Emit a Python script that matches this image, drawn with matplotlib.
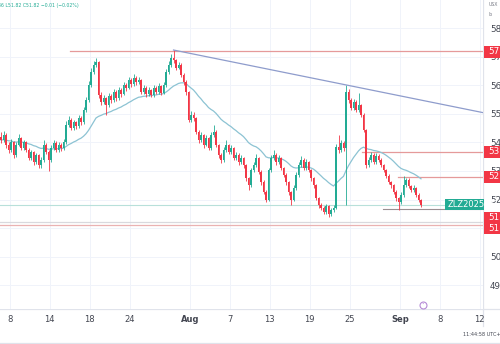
import matplotlib
matplotlib.use("Agg")
import matplotlib.pyplot as plt
import numpy as np
import pandas as pd
from matplotlib.patches import Rectangle

# ---------------- data ----------------
closes = [54.08, 54.26, 53.91, 53.73, 54.01, 53.56, 53.91, 54.15, 53.80, 54.01,
          53.73, 53.45, 53.66, 53.31, 53.56, 53.21, 53.38, 53.91, 53.66, 53.38,
          53.80, 53.98, 53.73, 53.91, 53.80, 54.01, 54.61, 54.78, 54.50, 54.71,
          54.57, 54.85, 54.71, 55.13, 55.48, 56.01, 56.46, 56.71, 56.81, 55.66,
          55.41, 55.55, 55.31, 55.62, 55.48, 55.76, 55.55, 55.83, 55.69, 56.01,
          55.90, 56.18, 56.04, 56.25, 56.11, 56.18, 55.76, 55.90, 55.69, 55.83,
          55.66, 55.90, 55.76, 55.97, 55.73, 56.01, 56.46, 56.71, 56.95, 56.88,
          56.60, 56.71, 56.36, 56.11, 55.76, 54.78, 54.96, 54.85, 54.36, 54.08,
          54.26, 53.91, 54.15, 53.80, 54.26, 54.36, 53.91, 53.56, 53.38, 53.73,
          53.91, 53.66, 53.80, 53.45, 53.56, 53.31, 53.45, 53.21, 52.75, 52.51,
          53.03, 53.21, 53.45, 52.96, 52.61, 52.26, 51.99, 53.03, 53.45, 53.56,
          53.31, 53.45, 53.10, 52.86, 52.61, 52.26, 51.99, 52.40, 52.86, 53.21,
          53.38, 53.10, 53.31, 53.03, 52.75, 52.51, 52.06, 51.81, 51.71, 51.57,
          51.78, 51.50, 51.64, 51.71, 53.84, 53.73, 53.98, 53.80, 55.76, 55.48,
          55.20, 55.41, 55.13, 55.31, 54.96, 54.43, 53.21, 53.38, 53.56, 53.31,
          53.52, 53.38, 53.21, 53.03, 52.82, 52.61, 52.51, 52.26, 52.06, 51.92,
          52.16, 52.51, 52.68, 52.47, 52.34, 52.40, 52.16, 51.99, 51.82]

highs = [54.35, 54.40, 54.32, 54.00, 54.12, 54.05, 54.02, 54.30, 54.20, 54.10,
         54.06, 53.80, 53.75, 53.70, 53.64, 53.60, 53.48, 54.08, 53.98, 53.72,
         53.90, 54.10, 54.05, 54.00, 53.98, 54.12, 54.75, 54.92, 54.85, 54.80,
         54.76, 54.96, 54.92, 55.25, 55.60, 56.15, 56.60, 56.85, 56.95, 56.86,
         55.75, 55.66, 55.60, 55.72, 55.70, 55.88, 55.82, 55.95, 55.90, 56.12,
         56.08, 56.30, 56.25, 56.38, 56.32, 56.28, 56.22, 56.00, 55.96, 55.92,
         55.88, 56.00, 55.96, 56.08, 56.02, 56.12, 56.58, 56.85, 57.10, 57.23,
         56.92, 56.82, 56.76, 56.42, 56.18, 55.80, 55.10, 55.05, 54.90, 54.42,
         54.38, 54.30, 54.26, 54.20, 54.38, 54.61, 54.42, 53.96, 53.62, 53.85,
         54.08, 53.96, 53.90, 53.85, 53.66, 53.62, 53.55, 53.50, 53.26, 52.80,
         53.12, 53.32, 53.58, 53.50, 53.02, 52.68, 52.32, 53.12, 53.56, 53.73,
         53.62, 53.55, 53.50, 53.15, 52.92, 52.66, 52.30, 52.50, 52.96, 53.32,
         53.52, 53.45, 53.42, 53.36, 53.08, 52.80, 52.56, 52.10, 51.88, 51.76,
         51.86, 51.82, 51.72, 51.80, 53.95, 54.26, 54.08, 54.05, 56.01, 55.85,
         55.55, 55.52, 55.48, 55.73, 55.36, 55.02, 54.48, 53.50, 53.68, 53.62,
         53.64, 53.58, 53.44, 53.26, 53.08, 52.88, 52.66, 52.56, 52.32, 52.10,
         52.26, 52.82, 52.76, 52.74, 52.52, 52.50, 52.45, 52.22, 52.02]

lows = [53.98, 54.00, 53.80, 53.62, 53.68, 53.45, 53.50, 53.86, 53.72, 53.75,
        53.65, 53.38, 53.40, 53.20, 53.25, 53.12, 53.10, 53.32, 53.58, 53.00,
        53.30, 53.72, 53.65, 53.66, 53.70, 53.74, 53.95, 54.55, 54.42, 54.45,
        54.48, 54.52, 54.62, 54.66, 55.05, 55.40, 55.95, 56.38, 56.62, 55.55,
        55.32, 55.35, 54.96, 55.25, 55.38, 55.42, 55.46, 55.50, 55.60, 55.64,
        55.80, 55.85, 55.95, 55.98, 56.02, 56.04, 55.68, 55.70, 55.60, 55.62,
        55.58, 55.60, 55.68, 55.70, 55.65, 55.68, 55.95, 56.40, 56.65, 56.78,
        56.52, 56.55, 56.28, 56.02, 55.66, 54.70, 54.72, 54.76, 54.28, 53.98,
        54.02, 53.82, 53.86, 53.72, 53.75, 54.20, 53.84, 53.46, 53.28, 53.32,
        53.68, 53.58, 53.60, 53.38, 53.38, 53.22, 53.25, 53.12, 52.66, 52.34,
        52.45, 52.96, 53.15, 52.88, 52.52, 52.18, 51.90, 51.95, 52.98, 53.40,
        53.22, 53.25, 53.02, 52.78, 52.52, 52.16, 51.81, 51.95, 52.35, 52.80,
        53.15, 53.02, 53.05, 52.95, 52.66, 52.42, 51.98, 51.72, 51.62, 51.48,
        51.50, 51.40, 51.44, 51.58, 51.66, 53.62, 53.66, 53.70, 51.81, 55.38,
        55.12, 55.15, 55.05, 55.08, 54.88, 54.35, 53.12, 53.15, 53.32, 53.24,
        53.26, 53.30, 53.14, 52.95, 52.74, 52.54, 52.42, 52.18, 51.96, 51.64,
        51.86, 52.10, 52.45, 52.40, 52.26, 52.28, 52.08, 51.90, 51.75]

first_open = 54.20
opens = [first_open] + closes[:-1]

tick_dates = ["2025-07-08", "2025-07-14", "2025-07-18", "2025-07-24", "2025-08-01",
              "2025-08-07", "2025-08-13", "2025-08-19", "2025-08-25", "2025-09-02",
              "2025-09-08", "2025-09-12"]
tick_labels = ["8", "14", "18", "24", "Aug", "7", "13", "19", "25", "Sep", "8", "12"]

price_ticks = [49, 50, 51, 52, 53, 54, 55, 56, 57, 58]

level_top = 57.20
level_mid = 53.68
level_52 = 52.80
level_low_recent = 51.67
level_bottom_a = 51.22
level_bottom_b = 51.10
symbol = "ZLZ2025"
header = "H51.86 L51.82 C51.82 \u22120.01 (\u22120.02%)"
time_text = "11:44:58 UTC+7"
MA_SPAN = 28

# ---------------- layout ----------------
W, H = 500, 344
BARS_PER_DAY = 4
fig = plt.figure(figsize=(W / 100, H / 100), dpi=100)
fig.patch.set_facecolor("white")
ax_l, ax_r, ax_t, ax_b = 0, 483, 0, 309
ax = fig.add_axes([ax_l / W, 1 - ax_b / H, (ax_r - ax_l) / W, (ax_b - ax_t) / H])

UP = "#22ab94"
DOWN = "#f23645"
n = len(closes)
x = np.arange(n)
o = np.array(opens); c = np.array(closes); hi = np.array(highs); lo = np.array(lows)
up = c >= o
cols = np.where(up, UP, DOWN)

ax.vlines(x, lo, hi, colors=cols, lw=0.6, zorder=3)
body_h = np.maximum(np.abs(c - o), 0.015)
ax.bar(x, body_h, bottom=np.minimum(o, c), width=0.72, color=cols, lw=0, zorder=4)

ma = pd.Series(closes).ewm(span=MA_SPAN, adjust=False).mean()
ax.plot(x, ma, color="#8cc3d3", lw=0.9, zorder=2.8)

# trading day calendar
days = pd.bdate_range("2025-07-07", "2025-09-12")
days = days[days != pd.Timestamp("2025-09-01")]
day_index = {d.strftime("%Y-%m-%d"): k for k, d in enumerate(days)}
tick_pos = [day_index[d] * BARS_PER_DAY - 0.5 for d in tick_dates]

xmin = -0.4
xmax = xmin + (ax_r - ax_l) / 2.5
ax.set_xlim(xmin, xmax)
ax.set_ylim(58 - (ax_b - 28) / 28.6, 58 + 28 / 28.6)

# grid
for tp in tick_pos:
    ax.axvline(tp, color="#f0f3fa", lw=0.7, zorder=0)
for pt in price_ticks:
    ax.axhline(pt, color="#f0f3fa", lw=0.7, zorder=0)

# trend line through the two swing highs
i1 = int(np.argmax(hi[:100])); i2 = 100 + int(np.argmax(hi[100:]))
slope = (hi[i2] - hi[i1]) / (i2 - i1)
ax.plot([i1, xmax], [hi[i1], hi[i1] + slope * (xmax - i1)], color="#8e9ccc", lw=0.9, zorder=5)

red_line = "#e59a9a"
ax.plot([27.6, xmax], [level_top, level_top], color=red_line, lw=0.9, zorder=2)
ax.plot([144.4, xmax], [level_mid, level_mid], color=red_line, lw=0.9, zorder=2)
ax.plot([158.8, xmax], [level_52, level_52], color=red_line, lw=0.9, zorder=2)
ax.plot([152.8, xmax], [level_low_recent, level_low_recent], color="#9a8f92", lw=0.8, zorder=2)
ax.axhline(level_bottom_a, color="#d9d9de", lw=0.9, zorder=1)
ax.axhline(level_bottom_b, color="#eab2b2", lw=0.9, zorder=1)
ax.axhline(closes[-1], color="#b8e0da", lw=0.8, zorder=1)

# axes styling
for s in ["top", "left", "right", "bottom"]:
    ax.spines[s].set_visible(False)
ax.set_xticks(tick_pos)
ax.set_xticklabels(tick_labels)
for lbl, t in zip(ax.get_xticklabels(), tick_labels):
    if t in ("Aug", "Sep"):
        lbl.set_fontweight("bold")
ax.tick_params(axis="x", length=0, pad=4, labelsize=6, labelcolor="#434651")
ax.yaxis.tick_right()
ax.set_yticks(price_ticks)
ax.set_yticklabels([f"{v:.2f}" for v in price_ticks])
ax.tick_params(axis="y", length=0, pad=5, labelsize=6.3, labelcolor="#434651")

# right-side price labels
ytr = ax.get_yaxis_transform()
px_per_unit = 28.6
def price_label(price, color, shift_px=0, text=None):
    yc = price - shift_px / px_per_unit
    hgt = 12 / px_per_unit
    ax.add_patch(Rectangle((1.0015, yc - hgt / 2), 0.04, hgt, transform=ytr,
                           facecolor=color, edgecolor="none", clip_on=False, zorder=20))
    ax.text(1.0104, yc, text if text else f"{price:.2f}", transform=ytr, color="white",
            fontsize=6.3, va="center", ha="left", clip_on=False, zorder=21)

price_label(level_top, DOWN, shift_px=1)
price_label(level_mid, DOWN)
price_label(level_52, DOWN)
price_label(level_bottom_a, DOWN, shift_px=-4)
price_label(level_bottom_b, DOWN, shift_px=3)

# symbol / last price label
yc = closes[-1]; hgt = 11 / px_per_unit
ax.add_patch(Rectangle((445 / 483, yc - hgt / 2), 0.08, hgt, transform=ytr,
                       facecolor=UP, edgecolor="none", clip_on=False, zorder=22))
ax.text(448 / 483, yc, symbol, transform=ytr, color="white", fontsize=6, va="center",
        ha="left", clip_on=False, zorder=23)
ax.text(1.0104, yc, f"{closes[-1]:.2f}", transform=ytr, color="white", fontsize=6.3,
        va="center", ha="left", clip_on=False, zorder=23)

# overlay for frame lines and texts
ov = fig.add_axes([0, 0, 1, 1], zorder=-1)
ov.set_xlim(0, W); ov.set_ylim(H, 0); ov.axis("off")
ov.plot([0, W], [309, 309], color="#e0e3eb", lw=0.9)
ov.plot([483, 483], [0, 326], color="#e0e3eb", lw=0.9)
ov.plot([0, W], [343.3, 343.3], color="#e0e3eb", lw=0.9)

fig.text(-13 / W, 1 - 5 / H, header, fontsize=3.3, color=UP, va="center", ha="left")
fig.text(489 / W, 1 - 5 / H, "USX", fontsize=3.3, color="#787b86", va="center")
fig.text(489 / W, 1 - 14 / H, "lb", fontsize=3.3, color="#787b86", va="center")
fig.text(463 / W, 1 - 335 / H, time_text, fontsize=3.6, color="#434651", va="center")
ov2 = fig.add_axes([0, 0, 1, 1], zorder=30)
ov2.set_xlim(0, W); ov2.set_ylim(H, 0); ov2.axis("off")
ov2.plot([423], [304.5], marker="o", ms=5, mfc="white", mec="#b58ad6", mew=0.8)
ov2.text(423, 304.7, "\u2022", fontsize=3, color="#b58ad6", ha="center", va="center")

fig.savefig("out.png", dpi=100)
